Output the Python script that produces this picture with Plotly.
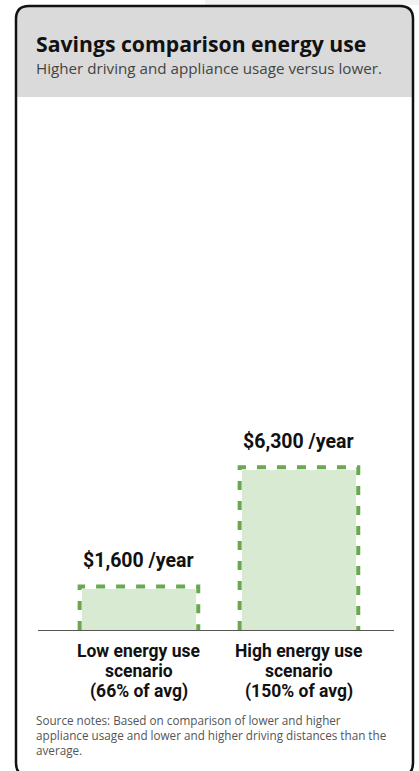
import plotly.graph_objects as go

# ---- data ----
category_lines = [["Low energy use", "scenario", "(66% of avg)"],
                  ["High energy use", "scenario", "(150% of avg)"]]
savings = [1600, 6300]
value_labels = ["$1,600 /year", "$6,300 /year"]
y_max = 20000

title = "Savings comparison energy use"
subtitle = "Higher driving and appliance usage versus lower."
source = ("Source notes: Based on comparison of lower and higher<br>"
          "appliance usage and lower and higher driving distances than the<br>"
          "average.")

# ---- layout constants (pixels) ----
W, H = 419, 771
L, R, T, B = 38, 394, 123, 630
FILL = "#d9ead3"
EDGE = "#6aa84f"
bar_w = 0.71
x_lo, x_hi = -0.631, 1.594


def px(x):
    return (x - L) / (R - L)


def py(y):
    return (B - y) / (B - T)


def path(pts_cmds):
    out = []
    for c in pts_cmds:
        if isinstance(c, str):
            out.append(c)
        else:
            out.append(f"{px(c[0]):.5f},{py(c[1]):.5f}")
    return " ".join(out)


xs = list(range(len(savings)))

fig = go.Figure()
fig.add_trace(go.Bar(x=xs, y=savings, width=bar_w,
                     marker=dict(color=FILL, line=dict(width=0), cornerradius=3),
                     hoverinfo="skip", showlegend=False))

# dashed outlines built from the same data
units_per_px_x = (x_hi - x_lo) / (R - L)
units_per_px_y = y_max / (B - T)
ox = 2.5 * units_per_px_x
oy = 3.0 * units_per_px_y
for i, v in zip(xs, savings):
    x0 = i - bar_w / 2 - ox
    x1 = i + bar_w / 2 + ox
    top = v + oy
    fig.add_trace(go.Scatter(x=[x0, x0, x1, x1], y=[0, top, top, 0],
                             mode="lines",
                             line=dict(color=EDGE, width=4, dash="9px,11px"),
                             hoverinfo="skip", showlegend=False))

for i, v, lab in zip(xs, savings, value_labels):
    fig.add_annotation(x=i, y=v, text=f"<b>{lab}</b>", showarrow=False, xanchor="center",
                       yanchor="bottom", yshift=15,
                       font=dict(family="Roboto", size=19.5, color="#111111"))

# category labels, one line each (tight line spacing)
line_tops = [638.5, 658.5, 678.5]
for i, lines in zip(xs, category_lines):
    for ln, top in zip(lines, line_tops):
        fig.add_annotation(x=i, xref="x", yref="paper", y=py(top), text=f"<b>{ln}</b>",
                           showarrow=False, xanchor="center", yanchor="top",
                           font=dict(family="Roboto", size=17.5, color="#111111"))

# card
r = 13
cl, cr, ct, cb, hb = 16, 413, 6, 776, 97
shapes = []
shapes.append(dict(type="rect", xref="paper", yref="paper",
                   x0=px(205), x1=px(419), y0=py(0), y1=py(5),
                   fillcolor="#f1f2f4", line=dict(width=0), layer="below"))
shapes.append(dict(type="path", xref="paper", yref="paper", layer="below",
                   path=path(["M", (cl, hb), "L", (cl, ct + r), "Q", (cl, ct), (cl + r, ct),
                              "L", (cr - r, ct), "Q", (cr, ct), (cr, ct + r),
                              "L", (cr, hb), "Z"]),
                   fillcolor="#dadada", line=dict(width=0)))
shapes.append(dict(type="path", xref="paper", yref="paper", layer="above",
                   path=path(["M", (cl, cb - r), "L", (cl, ct + r), "Q", (cl, ct), (cl + r, ct),
                              "L", (cr - r, ct), "Q", (cr, ct), (cr, ct + r),
                              "L", (cr, cb - r), "Q", (cr, cb), (cr - r, cb),
                              "L", (cl + r, cb), "Q", (cl, cb), (cl, cb - r), "Z"]),
                   fillcolor="rgba(0,0,0,0)", line=dict(color="#111111", width=2.5)))

annotations = [
    dict(xref="paper", yref="paper", x=px(34), y=py(27), xanchor="left", yanchor="top",
         text=f"<b>{title}</b>", showarrow=False, align="left",
         font=dict(family="Open Sans", size=21.2, color="#111111")),
    dict(xref="paper", yref="paper", x=px(34), y=py(55.5), xanchor="left", yanchor="top",
         text=subtitle, showarrow=False, align="left",
         font=dict(family="Open Sans", size=15.2, color="#444444")),
    dict(xref="paper", yref="paper", x=px(34), y=py(709.5), xanchor="left", yanchor="top",
         text=source, showarrow=False, align="left",
         font=dict(family="Open Sans", size=11.7, color="#555555")),
]
for a in annotations:
    fig.add_annotation(**a)

fig.update_layout(
    width=W, height=H,
    margin=dict(l=L, r=W - R, t=T, b=H - B, pad=0),
    paper_bgcolor="white", plot_bgcolor="rgba(0,0,0,0)",
    shapes=shapes, showlegend=False, bargap=0,
    xaxis=dict(range=[x_lo, x_hi], tickvals=xs, showticklabels=False,
               showgrid=False, zeroline=False, showline=True, linecolor="#555555",
               linewidth=1, ticks="", fixedrange=True),
    yaxis=dict(range=[0, y_max], tickvals=[y_max], showticklabels=False,
               showgrid=True, gridcolor="#d6d6d6", gridwidth=1.5, zeroline=False,
               showline=False, fixedrange=True),
)

fig.write_html("out.html", config={"displayModeBar": False},
               post_script="document.body.style.margin='0';document.body.style.overflow='hidden';")
